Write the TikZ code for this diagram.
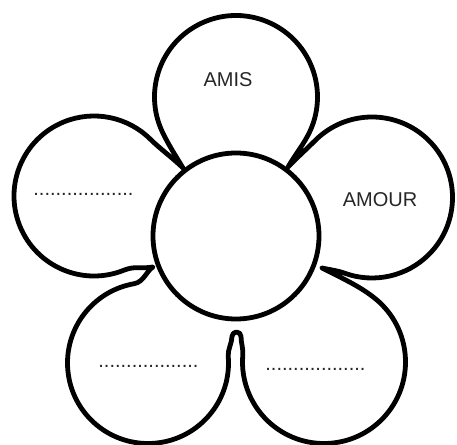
\documentclass[tikz,border=0pt]{standalone}
\usepackage{fontspec}
\setmainfont{Liberation Sans}
\usetikzlibrary{calc}
\begin{document}
\begin{tikzpicture}[x=1pt,y=1pt,
  outline/.style={line width=4.8pt, line join=round, line cap=round, draw=black},
  lbl/.style={font=\fontsize{20}{24}\selectfont, text=black!85, inner sep=0pt}]
\useasboundingbox (0,0) rectangle (457,444);
\coordinate (C0) at (236,208);
\coordinate (T) at (236,347);
\coordinate (R) at (372,246.5);
\coordinate (BR) at (324,82);
\coordinate (BL) at (148,81);
\coordinate (L) at (94,248);
\coordinate (JTL) at (183,276);
\coordinate (JTR) at (288,277);
\coordinate (JRB) at (322,176);
\coordinate (JLB) at (153,177);
\coordinate (UR) at (241,107.5);
\coordinate (UL) at (232,107.5);
\draw[outline]
 (JTL) .. controls ($(JTL)+(121:14)$) and ($(T)+(205:81.5)+(295:14)$) .. ($(T)+(205:81.5)$)
 arc[start angle=205, end angle=-25, radius=81.5]
 .. controls ($(T)+(-25:81.5)+(-115:14)$) and ($(JTR)+(60:14)$) .. (JTR)
 .. controls ($(JTR)+(46:14)$) and ($(R)+(135:80.5)+(225:14)$) .. ($(R)+(135:80.5)$)
 arc[start angle=135, end angle=-110, radius=80.5]
 .. controls ($(R)+(-110:80.5)+(160:8)$) and ($(JRB)+(-13:8)$) .. (JRB)
 .. controls ($(JRB)+(-27:22)$) and ($(BR)+(50:81.5)+(140:20)$) .. ($(BR)+(50:81.5)$)
 arc[start angle=50, end angle=-185, radius=81.5]
 .. controls ($(BR)+(175:81.5)+(85:6)$) and ($(UR)+(0,-6)$) .. (UR)
 arc[start angle=0, end angle=180, radius=4.5]
 .. controls ($(UL)+(0,-6)$) and ($(BL)+(5:80.5)+(95:6)$) .. ($(BL)+(5:80.5)$)
 arc[start angle=5, end angle=-260, radius=80.5]
 .. controls ($(BL)+(100:80.5)+(10:10)$) and ($(JLB)+(212:8)$) .. (JLB)
 .. controls ($(JLB)+(190:12)$) and ($(L)+(-68:80)+(22:12)$) .. ($(L)+(-68:80)$)
 arc[start angle=-68, end angle=-315, radius=80]
 .. controls ($(L)+(45:80)+(-45:12)$) and ($(JTL)+(135:12)$) .. (JTL);
\draw[outline, fill=white] (C0) circle[radius=83];
\node[lbl, anchor=base] (amis) at (228,357) {AMIS};
\node[lbl, anchor=base] (amour) at (380,237) {AMOUR};
\node[lbl, anchor=base west] (dl) at (33.2,248) {..................};
\node[lbl, anchor=base west] (dbl) at (98.2,77) {..................};
\node[lbl, anchor=base west] (dbr) at (265.2,74) {..................};
\end{tikzpicture}
\end{document}
